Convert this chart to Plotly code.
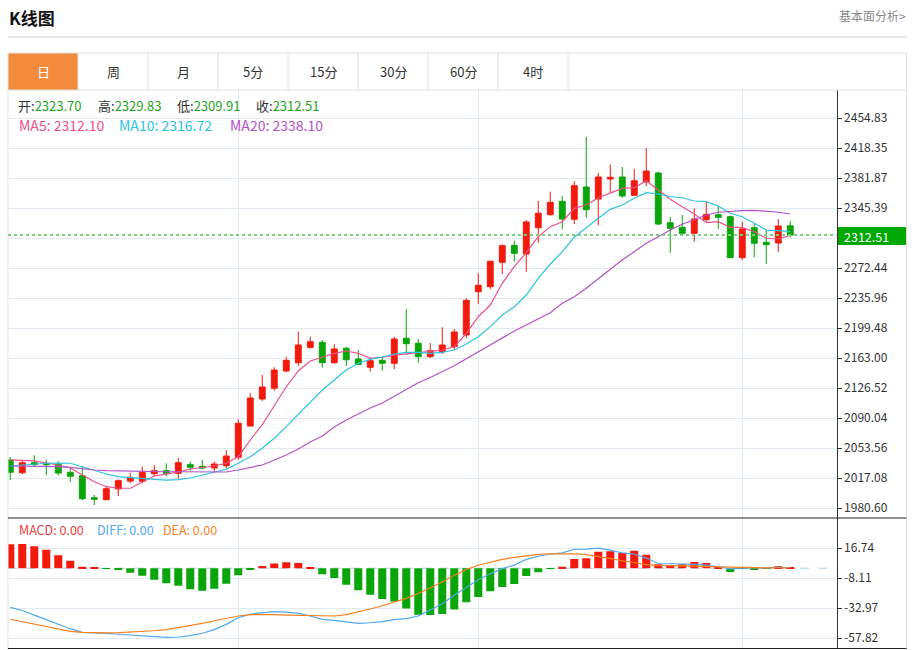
import plotly.graph_objects as go

# ---------------- data ----------------
idx = list(range(66))

opens = [2039.0, 2023.5, 2035.7, 2035.0, 2034.1, 2024.0, 2019.9, 1993.1, 1990.7, 2003.7,
         2013.4, 2013.1, 2022.3, 2026.0, 2022.8, 2033.3, 2031.3, 2029.2, 2032.0, 2042.3,
         2080.3, 2113.1, 2126.2, 2147.2, 2157.3, 2176.0, 2182.1, 2157.3, 2174.8, 2161.8,
         2151.7, 2160.2, 2156.6, 2187.0, 2180.9, 2164.6, 2170.7, 2176.7, 2191.0, 2243.6,
         2249.7, 2279.4, 2300.0, 2289.5, 2321.4, 2337.3, 2353.5, 2331.7, 2370.9, 2356.3,
         2380.7, 2383.1, 2360.8, 2377.0, 2388.0, 2327.5, 2321.9, 2314.6, 2331.2, 2337.3,
         2334.8, 2285.0, 2321.4, 2303.7, 2302.8, 2323.70]
highs = [2042.6, 2039.0, 2044.7, 2039.0, 2037.4, 2028.0, 2032.0, 1996.4, 2007.4, 2015.5,
         2023.5, 2030.8, 2032.5, 2035.0, 2041.4, 2036.9, 2039.3, 2036.9, 2051.1, 2088.5,
         2120.1, 2142.3, 2151.7, 2164.6, 2195.0, 2188.9, 2184.9, 2179.7, 2176.7, 2172.7,
         2163.9, 2164.6, 2188.9, 2222.6, 2186.1, 2181.2, 2200.3, 2198.3, 2235.6, 2266.0,
         2281.3, 2301.3, 2305.6, 2330.8, 2353.9, 2365.2, 2360.0, 2377.9, 2431.7, 2388.0,
         2398.5, 2395.3, 2392.8, 2418.0, 2389.5, 2334.5, 2336.9, 2345.0, 2353.1, 2347.5,
         2336.0, 2328.7, 2326.3, 2318.6, 2332.0, 2329.83]
lows = [2014.6, 2021.9, 2030.8, 2020.4, 2020.4, 2011.9, 1990.3, 1984.2, 1990.3, 1995.2,
        2011.0, 2010.6, 2019.5, 2019.5, 2016.2, 2026.0, 2027.7, 2024.7, 2028.9, 2039.0,
        2079.5, 2110.7, 2123.2, 2145.6, 2153.6, 2174.3, 2151.2, 2156.1, 2153.3, 2154.5,
        2146.3, 2147.6, 2149.6, 2166.6, 2157.3, 2163.0, 2167.9, 2172.7, 2187.0, 2228.7,
        2246.9, 2265.1, 2280.1, 2267.9, 2303.2, 2336.0, 2319.5, 2325.9, 2333.6, 2324.4,
        2364.0, 2357.6, 2360.0, 2372.2, 2324.7, 2291.0, 2311.4, 2304.4, 2328.7, 2319.9,
        2285.0, 2282.2, 2285.5, 2277.3, 2291.9, 2309.91]
closes = [2024.0, 2035.7, 2033.3, 2033.3, 2023.2, 2019.1, 1991.9, 1991.2, 2004.1, 2013.8,
          2017.9, 2024.0, 2026.0, 2022.8, 2035.7, 2030.1, 2029.2, 2034.1, 2043.8, 2083.6,
          2114.4, 2127.7, 2148.4, 2160.2, 2178.8, 2182.8, 2157.3, 2173.9, 2160.9, 2155.3,
          2159.7, 2156.6, 2186.1, 2180.4, 2164.6, 2171.9, 2178.8, 2194.6, 2233.2, 2251.4,
          2280.6, 2299.6, 2290.3, 2328.4, 2339.0, 2352.3, 2332.0, 2372.5, 2343.3, 2383.1,
          2382.7, 2360.0, 2378.6, 2390.4, 2325.9, 2320.7, 2314.6, 2332.0, 2337.7, 2334.1,
          2285.0, 2319.9, 2302.5, 2300.8, 2323.5, 2312.51]

ma5 = [2039.0, 2038.4, 2037.8, 2035.3, 2032.9, 2029.2, 2020.7, 2012.6, 2006.5, 2004.6,
       2004.6, 2012.2, 2019.5, 2021.9, 2024.4, 2028.0, 2029.6, 2031.7, 2035.0, 2043.0,
       2063.3, 2082.0, 2105.0, 2128.0, 2147.2, 2159.4, 2163.9, 2168.7, 2171.5, 2168.7,
       2162.6, 2163.9, 2166.6, 2168.5, 2169.5, 2171.0, 2172.7, 2176.7, 2193.0, 2213.2,
       2227.4, 2253.8, 2274.0, 2291.0, 2310.5, 2322.7, 2328.7, 2345.0, 2349.0, 2357.9,
       2364.0, 2369.3, 2370.1, 2378.6, 2367.3, 2356.0, 2347.0, 2338.1, 2327.5, 2328.7,
       2321.9, 2321.9, 2316.6, 2308.6, 2307.7, 2312.10]
ma10 = [2031.7, 2032.9, 2033.8, 2035.0, 2035.3, 2035.0, 2030.8, 2026.0, 2021.9, 2018.7,
        2017.4, 2016.7, 2015.5, 2014.6, 2015.0, 2017.1, 2020.4, 2023.5, 2027.7, 2035.0,
        2043.0, 2053.2, 2065.4, 2079.5, 2094.5, 2109.9, 2124.1, 2136.2, 2148.4, 2156.6,
        2161.4, 2164.2, 2167.9, 2169.9, 2169.9, 2168.7, 2169.9, 2172.7, 2180.0, 2188.9,
        2201.1, 2215.3, 2225.4, 2239.6, 2259.9, 2277.3, 2292.3, 2309.8, 2321.9, 2332.9,
        2343.8, 2349.0, 2357.2, 2364.0, 2362.4, 2359.1, 2357.9, 2353.9, 2353.1, 2347.8,
        2339.0, 2334.8, 2326.8, 2318.6, 2317.8, 2316.72]
ma20 = [2031.7, 2031.7, 2031.7, 2031.3, 2030.8, 2029.9, 2028.0, 2026.8, 2026.0, 2025.6,
        2025.0, 2024.7, 2024.7, 2024.7, 2024.7, 2024.6, 2024.4, 2024.4, 2024.4, 2026.8,
        2029.9, 2032.9, 2039.0, 2045.0, 2052.3, 2060.9, 2068.2, 2079.1, 2087.6, 2094.9,
        2102.2, 2108.3, 2116.8, 2124.9, 2133.0, 2139.3, 2146.6, 2153.6, 2162.1, 2170.7,
        2179.4, 2188.2, 2195.8, 2203.1, 2210.4, 2218.1, 2229.5, 2237.5, 2247.7, 2258.7,
        2270.8, 2282.2, 2291.9, 2302.5, 2310.5, 2318.6, 2325.6, 2331.7, 2336.9, 2340.2,
        2341.4, 2342.1, 2342.6, 2341.8, 2340.2, 2338.10]

macd = [19.8, 20.0, 18.1, 15.3, 10.7, 6.2, 1.3, 0.2, -0.5, -1.5,
        -3.7, -6.2, -9.5, -12.5, -14.5, -17.5, -18.6, -17.0, -12.8, -5.9,
        -0.9, 1.8, 4.0, 4.9, 4.3, 1.0, -5.1, -8.1, -13.7, -18.3,
        -21.9, -25.5, -27.5, -33.3, -38.5, -38.8, -37.9, -34.3, -28.3, -23.9,
        -19.1, -15.6, -13.1, -6.5, -3.4, -0.4, 1.3, 7.6, 8.2, 13.7,
        14.0, 12.9, 14.5, 11.2, 3.2, 2.6, 3.2, 5.1, 4.3, 1.0,
        -3.1, -0.4, -1.2, -0.2, 1.6, 0.3]
diff = [-32.5, -35.0, -38.9, -42.7, -46.5, -50.1, -53.1, -53.4, -54.0, -54.7,
        -55.2, -56.0, -56.5, -57.3, -57.0, -55.8, -53.9, -50.9, -46.5, -41.0,
        -38.0, -36.9, -36.0, -36.3, -37.4, -39.6, -42.4, -43.2, -44.6, -45.7,
        -45.2, -44.3, -42.6, -41.8, -39.6, -34.6, -29.5, -22.5, -15.8, -9.5,
        -4.6, -0.3, 2.5, 7.3, 9.9, 11.8, 12.7, 15.7, 15.8, 16.7,
        15.0, 12.6, 11.8, 8.4, 3.9, 3.4, 3.5, 3.2, 2.6, 1.2,
        -0.5, 0.0, 0.0, 0.3, 0.8, 0.6]
dea = [-42.3, -44.3, -46.2, -48.5, -50.4, -52.3, -53.2, -53.7, -53.6, -53.4,
       -53.0, -52.6, -51.8, -50.9, -49.3, -47.6, -45.7, -43.5, -41.5, -39.6,
       -38.5, -38.2, -38.5, -38.8, -39.0, -39.4, -39.7, -39.6, -38.5, -36.3,
       -33.8, -31.1, -28.3, -25.0, -20.9, -16.0, -11.4, -5.8, -1.2, 2.5,
       5.0, 7.3, 9.0, 10.5, 11.5, 12.0, 12.1, 11.9, 11.2, 9.8,
       8.0, 6.2, 4.5, 2.9, 2.3, 2.1, 1.9, 1.6, 1.3, 0.9,
       0.5, 0.4, 0.3, 0.3, 0.4, 0.4]

price_ticks = [1980.60, 2017.08, 2053.56, 2090.04, 2126.52, 2163.00, 2199.48,
               2235.96, 2272.44, 2308.91, 2345.39, 2381.87, 2418.35, 2454.83]
price_labels = ["1980.60", "2017.08", "2053.56", "2090.04", "2126.52", "2163.00", "2199.48",
                "2235.96", "2272.44", "", "2345.39", "2381.87", "2418.35", "2454.83"]
macd_ticks = [-57.82, -32.97, -8.11, 16.74]
macd_labels = ["-57.82", "-32.97", "-8.11", "16.74"]
month_marks = [19, 39, 61]

tabs = ["日", "周", "月", "5分", "15分", "30分", "60分", "4时"]
last_open, last_high, last_low, last_close = "2323.70", "2329.83", "2309.91", "2312.51"
ma_texts = ["MA5: 2312.10", "MA10: 2316.72", "MA20: 2338.10"]
macd_texts = ["MACD: 0.00", "DIFF: 0.00", "DEA: 0.00"]

for arr in (opens, highs, lows, closes, ma5, ma10, ma20, macd, diff, dea):
    assert len(arr) == 66, len(arr)

# ---------------- style ----------------
W, H = 916, 650
FONT = "Noto Sans CJK SC"
RED = "#F21A0C"
GREEN = "#0AA50A"
C_MA5 = "#F0508A"
C_MA10 = "#2CC4E0"
C_MA20 = "#B452C8"
C_DIFF = "#52A8F0"
C_DEA = "#F7811F"
GRID = "#E2EAF1"
TXT = "#333333"


def fx(x):
    return x / W


def fy(y):
    return 1 - y / H


X0, X1 = 8, 836.7
XR = [-0.19, 68.87]

fig = go.Figure()
fig.add_trace(go.Candlestick(
    x=idx, open=opens, high=highs, low=lows, close=closes,
    increasing=dict(line=dict(color=RED, width=1), fillcolor=RED),
    decreasing=dict(line=dict(color=GREEN, width=1), fillcolor=GREEN),
    whiskerwidth=0, hoverinfo="skip", xaxis="x", yaxis="y"))
for vals, col in ((ma5, C_MA5), (ma10, C_MA10), (ma20, C_MA20)):
    fig.add_trace(go.Scatter(x=idx, y=vals, mode="lines", line=dict(color=col, width=1.2),
                             hoverinfo="skip", xaxis="x", yaxis="y"))

bar_colors = [RED if v >= 0 else GREEN for v in macd]
fig.add_trace(go.Bar(x=idx, y=macd, marker=dict(color=bar_colors, line=dict(width=0)),
                     hoverinfo="skip", xaxis="x2", yaxis="y2"))
fig.add_trace(go.Scatter(x=idx, y=diff, mode="lines", line=dict(color=C_DIFF, width=1.2),
                         hoverinfo="skip", xaxis="x2", yaxis="y2"))
fig.add_trace(go.Scatter(x=idx, y=dea, mode="lines", line=dict(color=C_DEA, width=1.2),
                         hoverinfo="skip", xaxis="x2", yaxis="y2"))

axis_common = dict(showgrid=True, gridcolor=GRID, gridwidth=1, zeroline=False, fixedrange=True)

shapes = []


def pline(x0, y0, x1, y1, color, width=1, dash=None):
    d = dict(type="line", xref="paper", yref="paper", x0=fx(x0), y0=fy(y0), x1=fx(x1), y1=fy(y1),
             line=dict(color=color, width=width))
    if dash:
        d["line"]["dash"] = dash
    shapes.append(d)


# header separator
pline(8, 37, 907, 37, "#D4D4D4")
# tab bar
shapes.append(dict(type="rect", xref="paper", yref="paper", x0=fx(8), y0=fy(90), x1=fx(78), y1=fy(53),
                   fillcolor="#F28C3C", line=dict(width=0)))
shapes.append(dict(type="rect", xref="paper", yref="paper", x0=fx(8), y0=fy(90), x1=fx(906.5), y1=fy(53),
                   line=dict(color="#E0E0E0", width=1)))
for k in range(1, 9):
    xs = 8 + 70 * k
    pline(xs, 53, xs, 90, "#E0E0E0")
# chart frame
pline(8, 90, 8, 650, "#E3E3E3")
pline(906.5, 90, 906.5, 650, "#E3E3E3")
pline(8, 518, 906.5, 518, "#222222")
pline(8, 648.5, 906.5, 648.5, "#222222")
# last price dotted line
shapes.append(dict(type="line", xref="x", yref="y", x0=XR[0], x1=XR[1],
                   y0=float(last_close), y1=float(last_close),
                   line=dict(color="#7CCF7C", width=2, dash="dot"), layer="above"))
# last price tag
shapes.append(dict(type="rect", xref="paper", yref="paper", x0=fx(838), x1=fx(906), y0=fy(245), y1=fy(227),
                   fillcolor="#00A800", line=dict(width=0)))
# MACD zero line
shapes.append(dict(type="line", xref="x2", yref="y2", x0=XR[0], x1=XR[1], y0=0, y1=0,
                   line=dict(color="#A6D4EE", width=1, dash="dash"), layer="below"))

ann = []


def text(x, y, s, size=12, color=TXT, anchor="left", bold=False):
    ann.append(dict(xref="paper", yref="paper", x=fx(x), y=fy(y), text=("<b>%s</b>" % s if bold else s),
                    showarrow=False, xanchor=anchor, yanchor="middle",
                    font=dict(family=FONT, size=size, color=color)))


text(6.5, 17, "K线图", size=17, color="#111111", bold=True)
text(908, 16, "基本面分析&gt;", size=12, color="#8A8A8A", anchor="right")
for k, t in enumerate(tabs):
    text(43 + 70 * k, 71.5, t, size=13, color="#FFFFFF" if k == 0 else TXT, anchor="center")

GT = "#1EA51E"
info = [("开:", last_open, 15.5), ("高:", last_high, 95.5), ("低:", last_low, 174.5), ("收:", last_close, 253.5)]
for lab, val, xp in info:
    text(xp, 105.3, "%s<span style='color:%s'>%s</span>" % (lab, GT, val), size=13)
for s, col, xp in zip(ma_texts, (C_MA5, C_MA10, C_MA20), (16.5, 116.5, 228)):
    text(xp, 124.6, s, color=col, size=14)
for s, col, xp in zip(macd_texts, ("#EE4040", C_DIFF, C_DEA), (16.5, 95, 161)):
    text(xp, 529.5, s, color=col, size=12.5)
text(841.5, 236, last_close, size=12.5, color="#FFFFFF")

fig.update_layout(
    width=W, height=H, margin=dict(l=0, r=0, t=0, b=0),
    paper_bgcolor="white", plot_bgcolor="white",
    showlegend=False, bargap=0.33, boxgap=0.3, hovermode=False,
    font=dict(family=FONT, size=12, color=TXT),
    xaxis=dict(domain=[fx(X0), fx(X1)], range=XR, anchor="y", tickvals=month_marks,
               showticklabels=False, ticks="", rangeslider=dict(visible=False), **axis_common),
    xaxis2=dict(domain=[fx(X0), fx(X1)], range=XR, anchor="y2", matches="x", tickvals=month_marks,
                showticklabels=False, ticks="", **axis_common),
    yaxis=dict(domain=[fy(518), fy(90)], range=[1968.44, 2488.88], anchor="x", side="right",
               tickvals=price_ticks, ticktext=price_labels, ticks="outside", ticklen=4, tickcolor=TXT,
               showline=True, linecolor=TXT, linewidth=1, tickfont=dict(family=FONT, size=12, color=TXT),
               **axis_common),
    yaxis2=dict(domain=[fy(648), fy(518)], range=[-66.1, 41.6], anchor="x2", side="right",
                tickvals=macd_ticks, ticktext=macd_labels, ticks="outside", ticklen=4, tickcolor=TXT,
                showline=True, linecolor=TXT, linewidth=1, tickfont=dict(family=FONT, size=12, color=TXT),
                **axis_common),
    shapes=shapes, annotations=ann,
)

fig.write_html("out.html", config={"displayModeBar": False},
               post_script="document.body.style.margin='0px';document.body.style.overflow='hidden';")
